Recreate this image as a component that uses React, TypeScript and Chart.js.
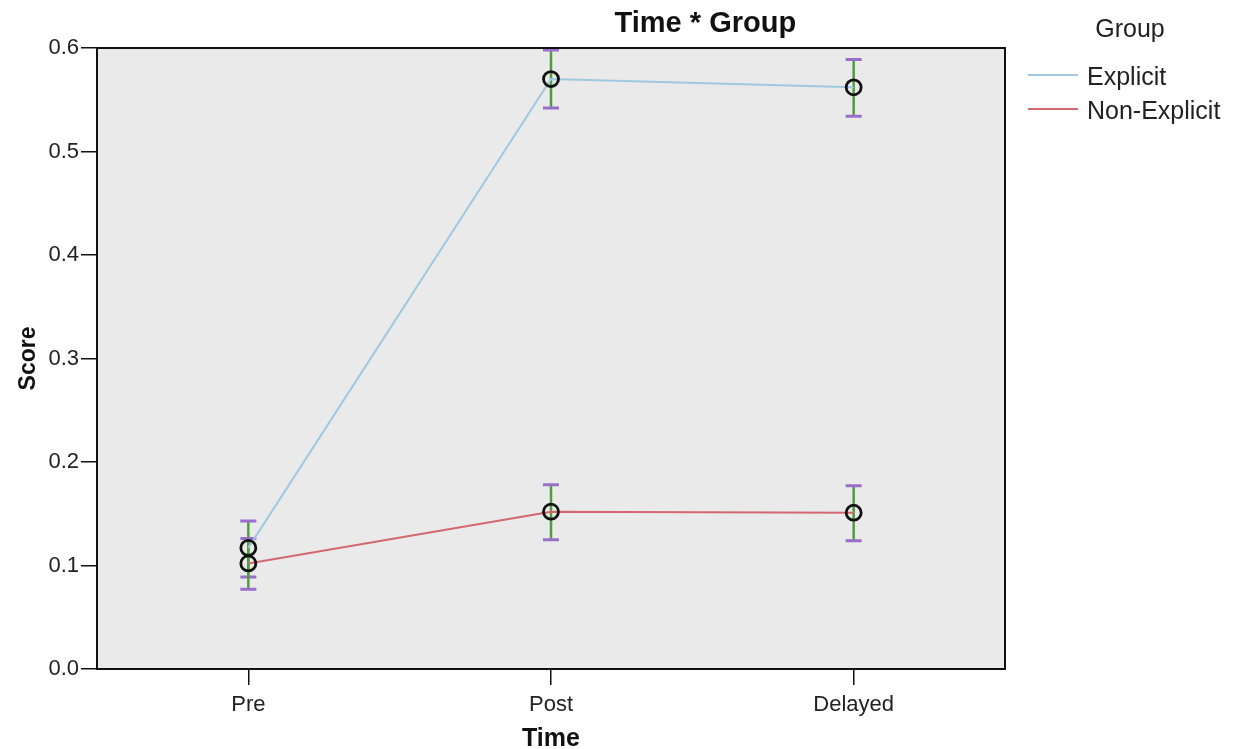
import React, { useEffect, useRef } from "react";
import { Chart, registerables } from "chart.js";

Chart.register(...registerables);

const categories = ["Pre", "Post", "Delayed"];
const seriesNames = ["Explicit", "Non-Explicit"];
const explicitMeans = [0.117, 0.570, 0.562];
const explicitLower = [0.089, 0.542, 0.534];
const explicitUpper = [0.143, 0.598, 0.589];
const nonExplicitMeans = [0.102, 0.152, 0.151];
const nonExplicitLower = [0.077, 0.125, 0.124];
const nonExplicitUpper = [0.126, 0.178, 0.177];
const yMin = 0;
const yMax = 0.6;
const yStep = 0.1;
const chartTitle = "Time * Group";
const legendTitle = "Group";
const xTitle = "Time";
const yTitle = "Score";

const FONT = "'Liberation Sans', Arial, sans-serif";
const seriesColors = ["rgb(160,200,225)", "rgb(212,104,112)"];
const lowers = [explicitLower, nonExplicitLower];
const uppers = [explicitUpper, nonExplicitUpper];

const plotPlugin = {
  id: "plotDecor",
  beforeDraw(chart: any) {
    const { ctx, chartArea: a } = chart;
    ctx.save();
    ctx.fillStyle = "#eaeaea";
    ctx.fillRect(a.left, a.top, a.right - a.left, a.bottom - a.top);
    ctx.restore();
  },
  beforeDatasetsDraw(chart: any) {
    const { ctx } = chart;
    const xs = chart.scales.x;
    const ys = chart.scales.y;
    ctx.save();
    for (let d = 0; d < lowers.length; d++) {
      for (let i = 0; i < categories.length; i++) {
        const x = xs.getPixelForValue(i);
        const yt = ys.getPixelForValue(uppers[d][i]);
        const yb = ys.getPixelForValue(lowers[d][i]);
        ctx.strokeStyle = "#4e9e3e";
        ctx.lineWidth = 2.5;
        ctx.beginPath();
        ctx.moveTo(x, yt);
        ctx.lineTo(x, yb);
        ctx.stroke();
        ctx.strokeStyle = "#9a6fcc";
        ctx.lineWidth = 3;
        ctx.beginPath();
        ctx.moveTo(x - 8, yt);
        ctx.lineTo(x + 8, yt);
        ctx.moveTo(x - 8, yb);
        ctx.lineTo(x + 8, yb);
        ctx.stroke();
      }
    }
    ctx.restore();
  },
  afterDraw(chart: any) {
    const { ctx, chartArea: a } = chart;
    ctx.save();
    ctx.strokeStyle = "#111";
    ctx.lineWidth = 2;
    ctx.strokeRect(a.left, a.top, a.right - a.left, a.bottom - a.top);
    ctx.fillStyle = "#111";
    ctx.font = `bold 29px ${FONT}`;
    ctx.textAlign = "center";
    ctx.textBaseline = "middle";
    ctx.fillText(chartTitle, a.left + (a.right - a.left) * 0.67, 24);
    const lx = a.right + 23;
    ctx.font = `25px ${FONT}`;
    ctx.fillStyle = "#222";
    ctx.fillText(legendTitle, lx + 102, 30);
    ctx.textAlign = "left";
    const rows = [75, 109];
    for (let d = 0; d < seriesNames.length; d++) {
      ctx.strokeStyle = seriesColors[d];
      ctx.lineWidth = 2;
      ctx.beginPath();
      ctx.moveTo(lx, rows[d]);
      ctx.lineTo(lx + 50, rows[d]);
      ctx.stroke();
      ctx.fillStyle = "#222";
      ctx.fillText(seriesNames[d], lx + 59, rows[d] + 3);
    }
    ctx.restore();
  },
};

export default function App() {
  const ref = useRef<HTMLCanvasElement>(null);
  useEffect(() => {
    if (!ref.current) return;
    const pointStyle = {
      pointRadius: 7.5,
      pointHoverRadius: 7.5,
      pointBorderWidth: 2.8,
      pointBorderColor: "#111",
      pointBackgroundColor: "rgba(0,0,0,0)",
    };
    const chart = new Chart(ref.current, {
      type: "line",
      data: {
        labels: categories,
        datasets: [
          {
            label: seriesNames[0],
            data: explicitMeans,
            borderColor: seriesColors[0],
            borderWidth: 2,
            tension: 0,
            ...pointStyle,
          },
          {
            label: seriesNames[1],
            data: nonExplicitMeans,
            borderColor: seriesColors[1],
            borderWidth: 2,
            tension: 0,
            ...pointStyle,
          },
        ],
      },
      options: {
        responsive: false,
        animation: false,
        devicePixelRatio: 1,
        layout: { padding: { left: 0, top: 48, right: 233, bottom: 0 } },
        plugins: {
          legend: { display: false },
          title: { display: false },
          tooltip: { enabled: false },
        },
        scales: {
          x: {
            type: "category",
            offset: true,
            afterFit(scale: any) {
              scale.height = 80;
            },
            grid: {
              display: true,
              drawOnChartArea: false,
              drawTicks: true,
              tickLength: 16,
              color: "#111",
              lineWidth: 1.5,
              offset: false,
            },
            border: { display: true, color: "#111", width: 2 },
            ticks: {
              color: "#222",
              font: { family: FONT, size: 22 },
              padding: 7,
              maxRotation: 0,
            },
            title: {
              display: true,
              text: xTitle,
              color: "#111",
              font: { family: FONT, size: 25, weight: "bold", lineHeight: 0.8 },
              padding: { top: 0, bottom: 0 },
            },
          },
          y: {
            min: yMin,
            max: yMax,
            afterFit(scale: any) {
              scale.width = 97;
            },
            grid: {
              display: true,
              drawOnChartArea: false,
              drawTicks: true,
              tickLength: 16,
              color: "#111",
              lineWidth: 1.5,
            },
            border: { display: true, color: "#111", width: 2 },
            ticks: {
              stepSize: yStep,
              color: "#222",
              font: { family: FONT, size: 22 },
              padding: 2,
              callback: (v: any) => Number(v).toFixed(1),
            },
            title: {
              display: true,
              text: yTitle,
              color: "#111",
              font: { family: FONT, size: 23, weight: "bold", lineHeight: 1 },
              padding: { top: 17, bottom: 0 },
            },
          },
        },
      },
      plugins: [plotPlugin],
    } as any);
    return () => chart.destroy();
  }, []);
  return (
    <div style={{ position: "absolute", left: 0, top: 0, width: 1238, height: 749 }}>
      <canvas ref={ref} width={1238} height={749} />
    </div>
  );
}
